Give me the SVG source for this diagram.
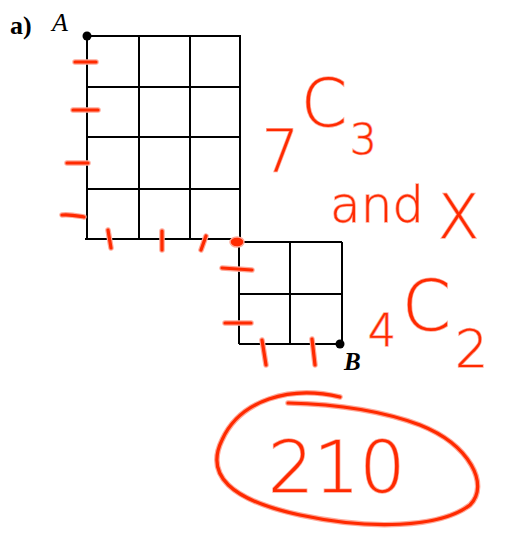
<svg xmlns="http://www.w3.org/2000/svg" width="511" height="538" viewBox="0 0 511 538">
<style>
.g{stroke:#000;stroke-width:2;fill:none}
.lbl{font-family:"Liberation Serif",serif;fill:#000}
.ink{fill:none;stroke:#ff2a00;stroke-width:3.2;stroke-linecap:round;stroke-linejoin:round}
.halo{fill:none;stroke:#ffa898;stroke-width:5.5;stroke-linecap:round;stroke-linejoin:round}
.hw{font-family:"DejaVu Sans",sans-serif;font-weight:300;fill:#ff2a00;stroke:#ffa898;stroke-width:1.5;paint-order:stroke}
</style>
<rect width="511" height="538" fill="#fff"/>
<g id="gridA">
<path class="g" d="M87 36H241M87 87H240M87 137H240M87 189H240M85 239H241M87 36V239M139 36V239M190 36V239M240 36V242"/>
</g>
<g id="gridB">
<path class="g" d="M239 242H342M239 294H342M239 344H342M239 240V344M290 242V344M342 242V344"/>
</g>
<g id="labels">
<text class="lbl" x="10" y="34" font-size="26" font-weight="bold">a)</text>
<text class="lbl" x="52" y="31" font-size="26" font-style="italic">A</text>
<circle id="A" cx="87" cy="36" r="4.5" fill="#000"/>
<circle id="B" cx="340" cy="344" r="4.5" fill="#000"/>
<text class="lbl" x="344" y="370" font-size="25" font-style="italic" font-weight="bold">B</text>
</g>
<g id="ticks">
<path class="halo" d="M75 62H96M73 110H98M67 163H88M62 215C70 214 78 216 84 217M108 230L111 248M162 231V250M206 236L201 250M222 268L252 270M225 323H251M262 340L266 365M312 339L315 365"/>
<path class="ink" d="M75 62H96M73 110H98M67 163H88M62 215C70 214 78 216 84 217M108 230L111 248M162 231V250M206 236L201 250M222 268L252 270M225 323H251M262 340L266 365M312 339L315 365"/>
<ellipse cx="237" cy="242" rx="7" ry="5" fill="#ff2a00" stroke="#ffa898" stroke-width="1.5"/>
</g>
<g id="notes">
<text class="hw" x="262" y="172" font-size="58">7</text>
<text class="hw" x="301" y="126" font-size="66">C</text>
<text class="hw" x="350" y="154" font-size="42">3</text>
<text class="hw" x="330" y="222" font-size="50">and</text>
<text class="hw" x="438" y="238" font-size="60">X</text>
<text class="hw" x="368" y="346" font-size="44">4</text>
<text class="hw" x="402" y="330" font-size="70">C</text>
<text class="hw" x="455" y="367" font-size="52">2</text>
<text class="hw" x="268" y="492" font-size="72">210</text>
<path class="halo" d="M340 397C290 385 240 400 222 440C205 475 230 500 300 515C370 530 440 528 470 505C490 485 470 445 420 425C380 410 330 404 288 403"/>
<path class="ink" d="M340 397C290 385 240 400 222 440C205 475 230 500 300 515C370 530 440 528 470 505C490 485 470 445 420 425C380 410 330 404 288 403"/>
</g>
</svg>
